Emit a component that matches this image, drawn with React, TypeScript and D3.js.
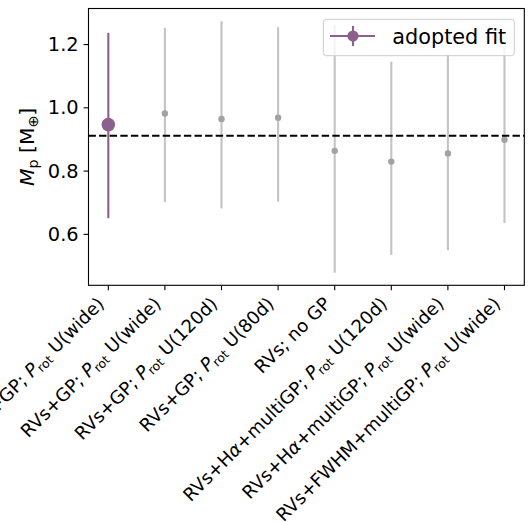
import React from "react";
import * as d3 from "d3";

const categories = [
  "RVs+FWHM+GP; P_rot U(wide)",
  "RVs+GP; P_rot U(wide)",
  "RVs+GP; P_rot U(120d)",
  "RVs+GP; P_rot U(80d)",
  "RVs; no GP",
  "RVs+Hα+multiGP; P_rot U(120d)",
  "RVs+Hα+multiGP; P_rot U(wide)",
  "RVs+FWHM+multiGP; P_rot U(wide)",
];
const medians = [0.947, 0.982, 0.965, 0.969, 0.864, 0.83, 0.856, 0.899];
const lowers = [0.651, 0.702, 0.682, 0.703, 0.479, 0.535, 0.55, 0.636];
const uppers = [1.237, 1.253, 1.274, 1.255, 1.263, 1.146, 1.17, 1.19];
const adoptedIndex = 0;
const referenceValue = 0.912;
const yTicks = [0.6, 0.8, 1.0, 1.2];
const legendLabel = "adopted fit";

const W = 528;
const H = 522;
const left = 88.5;
const right = 524.3;
const top = 8.5;
const bottom = 285.3;
const FS = 19.4;
const FS_X = 18.1;
const FS_LEGEND = 20.8;
const FS_YLABEL = 20.3;
const FONT = "DejaVu Sans, sans-serif";
const PURPLE = "#8d5f8b";
const GREY_LINE = "#c3c3c3";
const GREY_PT = "#a2a2a2";

function renderLabel(s: string, fs: number) {
  const parts = s.split(/(P_rot|α)/);
  const out: React.ReactNode[] = [];
  let pendingReset = false;
  const sh = fs * 0.18;
  parts.forEach((p, i) => {
    if (p === "P_rot") {
      out.push(
        <tspan key={i + "a"} fontStyle="italic" dy={pendingReset ? -sh : undefined}>P</tspan>
      );
      out.push(
        <tspan key={i + "b"} fontSize={fs * 0.68} dy={sh}>rot</tspan>
      );
      pendingReset = true;
    } else if (p === "α") {
      out.push(
        <tspan key={i} fontStyle="italic" dy={pendingReset ? -sh : undefined}>α</tspan>
      );
      pendingReset = false;
    } else if (p.length) {
      out.push(
        <tspan key={i} dy={pendingReset ? -sh : undefined}>{p}</tspan>
      );
      pendingReset = false;
    }
  });
  return out;
}

export default function App() {
  const x = d3.scaleLinear().domain([-0.35, 7.35]).range([left, right]);
  const y = d3.scaleLinear().domain([0.439, 1.314]).range([bottom, top]);
  const idx = d3.range(categories.length);
  const order = idx.filter((i) => i !== adoptedIndex).concat([adoptedIndex]);

  const tickLen = 4.9;
  const labelTop = bottom + tickLen + 4.9;

  return (
    <svg
      width={W}
      height={H}
      style={{ position: "absolute", left: 0, top: 0, background: "#fff" }}
      fontFamily={FONT}
    >
      <rect x={0} y={0} width={W} height={H} fill="#fff" />
      {order.map((i) => {
        const adopted = i === adoptedIndex;
        return (
          <g key={i}>
            <line
              x1={x(i)}
              x2={x(i)}
              y1={y(lowers[i])}
              y2={y(uppers[i])}
              stroke={adopted ? PURPLE : GREY_LINE}
              strokeWidth={2.1}
            />
            <circle
              cx={x(i)}
              cy={y(medians[i])}
              r={adopted ? 6.8 : 3.2}
              fill={adopted ? PURPLE : GREY_PT}
            />
          </g>
        );
      })}
      <line
        x1={left}
        x2={right}
        y1={y(referenceValue)}
        y2={y(referenceValue)}
        stroke="#000"
        strokeWidth={2}
        strokeDasharray="7.4,3.2"
      />
      <rect
        x={left}
        y={top}
        width={right - left}
        height={bottom - top}
        fill="none"
        stroke="#000"
        strokeWidth={1.1}
      />
      {yTicks.map((t) => (
        <g key={t}>
          <line x1={left - tickLen} x2={left} y1={y(t)} y2={y(t)} stroke="#000" strokeWidth={1.1} />
          <text
            x={left - tickLen - 4.9}
            y={y(t)}
            textAnchor="end"
            dominantBaseline="central"
            fontSize={FS}
            fill="#000"
          >
            {t.toFixed(1)}
          </text>
        </g>
      ))}
      {idx.map((i) => (
        <g key={i}>
          <line x1={x(i)} x2={x(i)} y1={bottom} y2={bottom + tickLen} stroke="#000" strokeWidth={1.1} />
          <text
            transform={`translate(${x(i) - 3},${labelTop + 9.8}) rotate(-45)`}
            textAnchor="end"
            fontSize={FS_X}
            fill="#000"
          >
            {renderLabel(categories[i], FS_X)}
          </text>
        </g>
      ))}
      <text
        transform={`translate(${34},${(top + bottom) / 2}) rotate(-90)`}
        textAnchor="middle"
        fontSize={FS_YLABEL}
        fill="#000"
      >
        <tspan fontStyle="italic">M</tspan>
        <tspan fontSize={FS_YLABEL * 0.7} dy={FS_YLABEL * 0.18}>p</tspan>
        <tspan dy={-FS_YLABEL * 0.18}> [M</tspan>
        <tspan fontSize={FS_YLABEL * 0.7} dy={FS_YLABEL * 0.18}>⊕</tspan>
        <tspan dy={-FS_YLABEL * 0.18}>]</tspan>
      </text>
      <g>
        <rect
          x={323.3}
          y={19.3}
          width={191}
          height={36.4}
          rx={3}
          fill="#fff"
          fillOpacity={0.8}
          stroke="#cccccc"
          strokeWidth={1}
        />
        <line x1={330} x2={375} y1={36} y2={36} stroke={PURPLE} strokeWidth={2.1} />
        <line x1={353} x2={353} y1={26} y2={46} stroke={PURPLE} strokeWidth={2.1} />
        <circle cx={353} cy={36} r={5.6} fill={PURPLE} />
        <text x={392.3} y={44} fontSize={FS_LEGEND} fill="#000">
          {legendLabel}
        </text>
      </g>
    </svg>
  );
}
